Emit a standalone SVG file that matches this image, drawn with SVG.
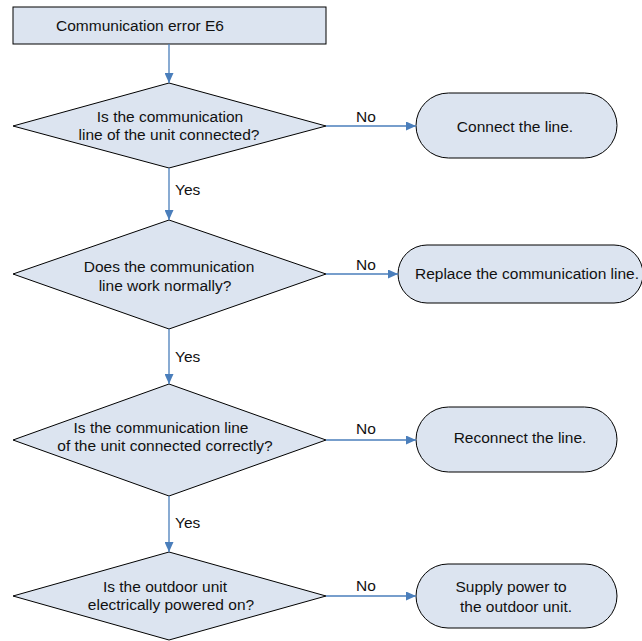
<svg xmlns="http://www.w3.org/2000/svg" width="642" height="641" viewBox="0 0 642 641">
<defs>
<marker id="ah" markerWidth="10" markerHeight="9" refX="10" refY="4.5" orient="auto" markerUnits="userSpaceOnUse">
<path d="M0,0 L10,4.5 L0,9 Z" fill="#4A7EBB"/>
</marker>
<style>
.shape{fill:#DCE4F0;stroke:#000;stroke-width:1}
.t{font-family:"Liberation Sans",Arial,sans-serif;font-size:15.5px;fill:#111}
.c{text-anchor:middle}
.line{stroke:#4A7EBB;stroke-width:1.3;fill:none;marker-end:url(#ah)}
</style>
</defs>
<rect width="642" height="641" fill="#fff"/>
<g id="start">
<rect class="shape" x="13" y="7" width="313" height="37"/>
<text class="t" x="56" y="31">Communication error E6</text>
</g>
<g id="d1">
<polygon class="shape" points="169,83 326,126 169,168 13,126"/>
<text class="t c" x="170" y="122">Is the communication</text>
<text class="t c" x="169" y="140">line of the unit connected?</text>
</g>
<g id="d2">
<polygon class="shape" points="169,220 326,274 169,329 13,274"/>
<text class="t c" x="169" y="272">Does the communication</text>
<text class="t c" x="165" y="291">line work normally?</text>
</g>
<g id="d3">
<polygon class="shape" points="169,384 326,440 169,496 13,440"/>
<text class="t c" x="161" y="433">Is the communication line</text>
<text class="t c" x="165" y="451">of the unit connected correctly?</text>
</g>
<g id="d4">
<polygon class="shape" points="169,552 326,596 169,640 13,596"/>
<text class="t c" x="165" y="592">Is the outdoor unit</text>
<text class="t c" x="171" y="610">electrically powered on?</text>
</g>
<g id="e1">
<rect class="shape" x="416" y="93" width="201" height="65" rx="32.5"/>
<text class="t c" x="515" y="132">Connect the line.</text>
</g>
<g id="e2">
<rect class="shape" x="398" y="245" width="245" height="58" rx="29"/>
<text class="t c" x="527" y="279">Replace the communication line.</text>
</g>
<g id="e3">
<rect class="shape" x="416" y="407" width="201" height="65" rx="32.5"/>
<text class="t c" x="520" y="443">Reconnect the line.</text>
</g>
<g id="e4">
<rect class="shape" x="416" y="564" width="201" height="64" rx="32"/>
<text class="t c" x="511" y="592">Supply power to</text>
<text class="t c" x="516" y="612">the outdoor unit.</text>
</g>
<g id="connectors">
<line class="line" x1="169" y1="44" x2="169" y2="83"/>
<line class="line" x1="169" y1="168" x2="169" y2="220"/>
<line class="line" x1="169" y1="329" x2="169" y2="384"/>
<line class="line" x1="169" y1="496" x2="169" y2="552"/>
<line class="line" x1="326" y1="126" x2="416" y2="126"/>
<line class="line" x1="326" y1="274" x2="398" y2="274"/>
<line class="line" x1="326" y1="440" x2="416" y2="440"/>
<line class="line" x1="326" y1="596" x2="416" y2="596"/>
<text class="t" x="175" y="195">Yes</text>
<text class="t" x="175" y="362">Yes</text>
<text class="t" x="175" y="528">Yes</text>
<text class="t" x="356" y="122">No</text>
<text class="t" x="356" y="270">No</text>
<text class="t" x="356" y="434">No</text>
<text class="t" x="356" y="591">No</text>
</g>
</svg>
